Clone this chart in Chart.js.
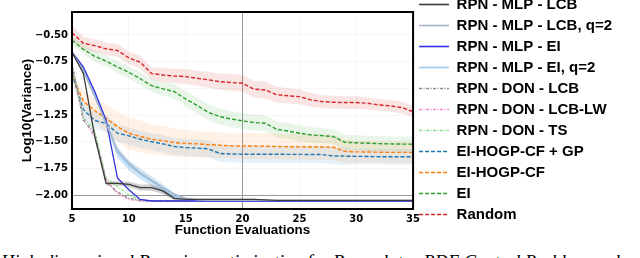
<!DOCTYPE html>
<html><head><meta charset="utf-8">
<script src="https://cdn.jsdelivr.net/npm/chart.js@4.4.0/dist/chart.umd.min.js"></script>
<style>
html,body{margin:0;padding:0;background:#fff;overflow:hidden;width:640px;height:258px;}
#wrap{position:relative;width:640px;height:258px;overflow:hidden;background:#fff;}
#c{position:absolute;left:0;top:-9px;width:640px;height:250px;}
#cap{position:absolute;left:1px;top:253px;font:italic 18.4px/1 'Liberation Serif',serif;white-space:nowrap;color:#000;}
</style></head><body>
<div id="wrap"><canvas id="c" width="640" height="250"></canvas>
<div id="cap">High-dimensional Bayesian optimization for Brusselator PDE Control Problem and</div></div>
<script>
const evals = [5,6,7,8,9,10,11,12,13,14,15,16,17,18,19,20,21,22,23,24,25,26,27,28,29,30,31,32,33,34,35];
const yTicks = [-2.0,-1.75,-1.5,-1.25,-1.0,-0.75,-0.5];
const xTicks = [5,10,15,20,25,30,35];

const mlpLcb    = [-0.66,-0.86,-1.45,-1.89,-1.89,-1.90,-1.93,-1.93,-1.96,-2.03,-2.04,-2.04,-2.04,-2.04,-2.04,-2.04,-2.04,-2.045,-2.05,-2.05,-2.05,-2.05,-2.05,-2.05,-2.05,-2.05,-2.05,-2.05,-2.05,-2.05,-2.05];
const mlpLcbStd = [0.0,0.01,0.02,0.02,0.02,0.025,0.03,0.03,0.03,0.02,0.01,0.008,0.006,0.005,0.005,0.005,0.005,0.005,0.004,0.004,0.004,0.004,0.004,0.004,0.004,0.004,0.004,0.004,0.004,0.004,0.004];
const mlpLcbQ2  = [-0.66,-0.84,-1.08,-1.33,-1.58,-1.70,-1.79,-1.86,-1.93,-1.99,-2.03,-2.045,-2.05,-2.05,-2.05,-2.05,-2.05,-2.05,-2.05,-2.05,-2.05,-2.05,-2.05,-2.05,-2.05,-2.05,-2.05,-2.05,-2.05,-2.05,-2.05];
const mlpEi     = [-0.66,-0.80,-1.03,-1.30,-1.84,-1.95,-2.04,-2.055,-2.055,-2.055,-2.055,-2.055,-2.055,-2.055,-2.055,-2.055,-2.055,-2.055,-2.055,-2.055,-2.055,-2.055,-2.055,-2.055,-2.055,-2.055,-2.055,-2.055,-2.055,-2.055,-2.055];
const mlpEiQ2   = [-0.66,-0.82,-1.06,-1.32,-1.60,-1.72,-1.80,-1.87,-1.94,-2.01,-2.04,-2.05,-2.055,-2.055,-2.055,-2.055,-2.055,-2.055,-2.055,-2.055,-2.055,-2.055,-2.055,-2.055,-2.055,-2.055,-2.055,-2.055,-2.055,-2.055,-2.055];
const mlpEiQ2Std= [0.01,0.02,0.03,0.04,0.05,0.05,0.05,0.045,0.04,0.03,0.02,0.01,0.005,0.005,0.005,0.005,0.005,0.005,0.005,0.005,0.005,0.005,0.005,0.005,0.005,0.005,0.005,0.005,0.005,0.005,0.005];
const donLcb    = [-0.78,-1.30,-1.42,-1.88,-1.97,-2.03,-2.05,-2.055,-2.055,-2.055,-2.055,-2.055,-2.055,-2.055,-2.055,-2.055,-2.055,-2.055,-2.055,-2.055,-2.055,-2.055,-2.055,-2.055,-2.055,-2.055,-2.055,-2.055,-2.055,-2.055,-2.055];
const donLcbLw  = [-0.78,-1.28,-1.46,-1.85,-1.99,-2.04,-2.055,-2.055,-2.055,-2.055,-2.055,-2.055,-2.055,-2.055,-2.055,-2.055,-2.055,-2.055,-2.055,-2.055,-2.055,-2.055,-2.055,-2.055,-2.055,-2.055,-2.055,-2.055,-2.055,-2.055,-2.055];
const donTs     = [-0.77,-1.27,-1.40,-1.84,-1.92,-2.00,-2.045,-2.055,-2.055,-2.055,-2.055,-2.055,-2.055,-2.055,-2.055,-2.055,-2.055,-2.055,-2.055,-2.055,-2.055,-2.055,-2.055,-2.055,-2.055,-2.055,-2.055,-2.055,-2.055,-2.055,-2.055];
const hogpGp    = [-0.86,-1.20,-1.30,-1.33,-1.42,-1.445,-1.477,-1.50,-1.52,-1.545,-1.555,-1.56,-1.567,-1.61,-1.615,-1.617,-1.617,-1.617,-1.617,-1.618,-1.618,-1.62,-1.62,-1.633,-1.635,-1.637,-1.638,-1.64,-1.64,-1.64,-1.64];
const hogpGpStd = [0.05,0.07,0.08,0.08,0.08,0.08,0.08,0.08,0.08,0.08,0.08,0.08,0.08,0.08,0.08,0.08,0.08,0.08,0.08,0.08,0.08,0.08,0.08,0.08,0.08,0.07,0.07,0.07,0.07,0.07,0.07];
const hogp      = [-0.88,-1.12,-1.21,-1.28,-1.36,-1.42,-1.45,-1.477,-1.49,-1.508,-1.515,-1.52,-1.527,-1.533,-1.538,-1.54,-1.54,-1.542,-1.545,-1.547,-1.548,-1.55,-1.55,-1.552,-1.59,-1.595,-1.596,-1.598,-1.60,-1.60,-1.60];
const hogpStd   = [0.05,0.09,0.11,0.13,0.14,0.15,0.15,0.14,0.14,0.13,0.13,0.12,0.12,0.12,0.12,0.12,0.12,0.12,0.12,0.12,0.12,0.12,0.12,0.12,0.11,0.10,0.10,0.10,0.10,0.10,0.10];
const ei        = [-0.55,-0.635,-0.70,-0.745,-0.80,-0.85,-0.91,-0.975,-1.005,-1.03,-1.10,-1.16,-1.225,-1.265,-1.287,-1.305,-1.32,-1.327,-1.383,-1.40,-1.42,-1.436,-1.443,-1.452,-1.505,-1.51,-1.514,-1.518,-1.52,-1.522,-1.523];
const eiStd     = [0.04,0.045,0.05,0.05,0.055,0.055,0.06,0.06,0.065,0.07,0.07,0.075,0.075,0.075,0.075,0.075,0.075,0.075,0.075,0.075,0.075,0.075,0.07,0.07,0.07,0.07,0.07,0.07,0.07,0.07,0.07];
const random    = [-0.48,-0.578,-0.60,-0.63,-0.645,-0.715,-0.755,-0.862,-0.875,-0.884,-0.89,-0.906,-0.92,-0.937,-0.946,-0.952,-1.008,-1.015,-1.06,-1.07,-1.078,-1.108,-1.124,-1.13,-1.133,-1.133,-1.14,-1.155,-1.164,-1.18,-1.218];
const randomStd = [0.07,0.06,0.06,0.06,0.06,0.06,0.06,0.06,0.065,0.065,0.07,0.07,0.075,0.075,0.08,0.08,0.08,0.08,0.075,0.07,0.07,0.065,0.06,0.06,0.06,0.06,0.055,0.055,0.055,0.055,0.055];

const pts = arr => evals.map((x, i) => ({x, y: arr[i]}));
const plus = (a, s) => a.map((v, i) => v + s[i]);
const minus = (a, s) => a.map((v, i) => v - s[i]);
const dashDot = [3, 1.5, 1, 1.5];
const dash = [4, 2];

function line(label, arr, color, width, dashPat) {
  return {label, data: pts(arr), borderColor: color, backgroundColor: color, borderWidth: width,
    borderDash: dashPat || [], pointRadius: 0, fill: false, tension: 0};
}
const mains = [
  line('RPN - MLP - LCB', mlpLcb, '#3c3c3c', 1.3),
  line('RPN - MLP - LCB, q=2', mlpLcbQ2, '#a9b3c6', 1.3),
  line('RPN - MLP - EI', mlpEi, '#3030e0', 1.3),
  line('RPN - MLP - EI, q=2', mlpEiQ2, '#9ccaee', 1.5),
  line('RPN - DON - LCB', donLcb, '#8a8a8a', 1.3, dashDot),
  line('RPN - DON - LCB-LW', donLcbLw, '#f08cd0', 1.3, dashDot),
  line('RPN - DON - TS', donTs, '#88dc88', 1.3, dashDot),
  line('EI-HOGP-CF + GP', hogpGp, '#1f77b4', 1.4, dash),
  line('EI-HOGP-CF', hogp, '#ff7f0e', 1.4, dash),
  line('EI', ei, '#2ca02c', 1.4, dash),
  line('Random', random, '#d62728', 1.4, dash)
];
function band(mean, std, color) {
  return [
    {label: '', data: pts(plus(mean, std)), borderColor: 'transparent', borderWidth: 0, pointRadius: 0, fill: false},
    {label: '', data: pts(minus(mean, std)), borderColor: 'transparent', borderWidth: 0, pointRadius: 0, fill: '-1', backgroundColor: color}
  ];
}
const bands = [
  ...band(mlpLcb, mlpLcbStd, 'rgba(90,90,90,0.28)'),
  ...band(mlpEiQ2, mlpEiQ2Std, 'rgba(120,180,230,0.35)'),
  ...band(hogpGp, hogpGpStd, 'rgba(31,119,180,0.10)'),
  ...band(hogp, hogpStd, 'rgba(255,127,14,0.11)'),
  ...band(ei, eiStd, 'rgba(44,160,44,0.10)'),
  ...band(random, randomStd, 'rgba(214,39,40,0.12)')
];

const frame = {
  id: 'frame',
  afterDatasetsDraw(chart) {
    const {ctx, chartArea: a} = chart;
    ctx.save();
    ctx.strokeStyle = '#000';
    ctx.lineWidth = 2;
    ctx.strokeRect(a.left, a.top, a.right - a.left, a.bottom - a.top);
    ctx.restore();
  }
};

const tickFont = {family: 'DejaVu Sans', weight: 'bold', size: 10};
const titleFont = {family: 'Liberation Sans', weight: 'bold', size: 13.4};

new Chart(document.getElementById('c'), {
  type: 'line',
  data: {datasets: [...mains, ...bands]},
  options: {
    responsive: false,
    animation: false,
    layout: {padding: {left: 0, right: 18, top: 0, bottom: 0}},
    scales: {
      x: {
        type: 'linear', position: 'bottom', min: 5, max: 35,
        afterBuildTicks: s => { s.ticks = xTicks.map(v => ({value: v})); },
        afterFit: s => { s.height = 32; },
        ticks: {font: tickFont, color: '#000', padding: 4, maxRotation: 0, callback: v => String(v)},
        grid: {drawTicks: false, color: c => (c.tick && c.tick.value === 20) ? '#9a9a9a' : 'rgba(0,0,0,0.035)', lineWidth: 1},
        border: {display: false},
        title: {display: true, text: 'Function Evaluations', font: titleFont, color: '#000', padding: {top: 0, bottom: 3}}
      },
      xTop: {
        type: 'linear', position: 'top', display: true,
        afterFit: s => { s.height = 21; },
        ticks: {display: false}, grid: {display: false}, border: {display: false}
      },
      y: {
        type: 'linear', position: 'left', min: -2.13, max: -0.285,
        afterBuildTicks: s => { s.ticks = yTicks.map(v => ({value: v})); },
        afterFit: s => { s.width = 72; },
        ticks: {font: tickFont, color: '#000', padding: 4,
          callback: v => (v < 0 ? '\u2212' : '') + Math.abs(v).toFixed(2)},
        grid: {drawTicks: false, color: c => (c.tick && Math.abs(c.tick.value + 2) < 1e-6) ? '#9a9a9a' : 'rgba(0,0,0,0.035)', lineWidth: 1},
        border: {display: false},
        title: {display: true, text: 'Log10(Variance)', font: titleFont, color: '#000', padding: {top: 19, bottom: 0}}
      }
    },
    plugins: {
      tooltip: {enabled: false},
      legend: {
        position: 'right', align: 'start', maxWidth: 300,
        labels: {
          usePointStyle: true, pointStyle: 'line', pointStyleWidth: 30, padding: 6, color: '#000',
          font: {family: 'Liberation Sans', weight: 'bold', size: 15},
          generateLabels: chart => chart.data.datasets.slice(0, 11).map((d, i) => ({
            text: d.label, strokeStyle: d.borderColor, fillStyle: d.borderColor,
            lineWidth: 1.6, lineDash: d.borderDash, pointStyle: 'line',
            datasetIndex: i, hidden: false, fontColor: '#000'
          }))
        }
      }
    }
  },
  plugins: [frame]
});
</script>
</body></html>
